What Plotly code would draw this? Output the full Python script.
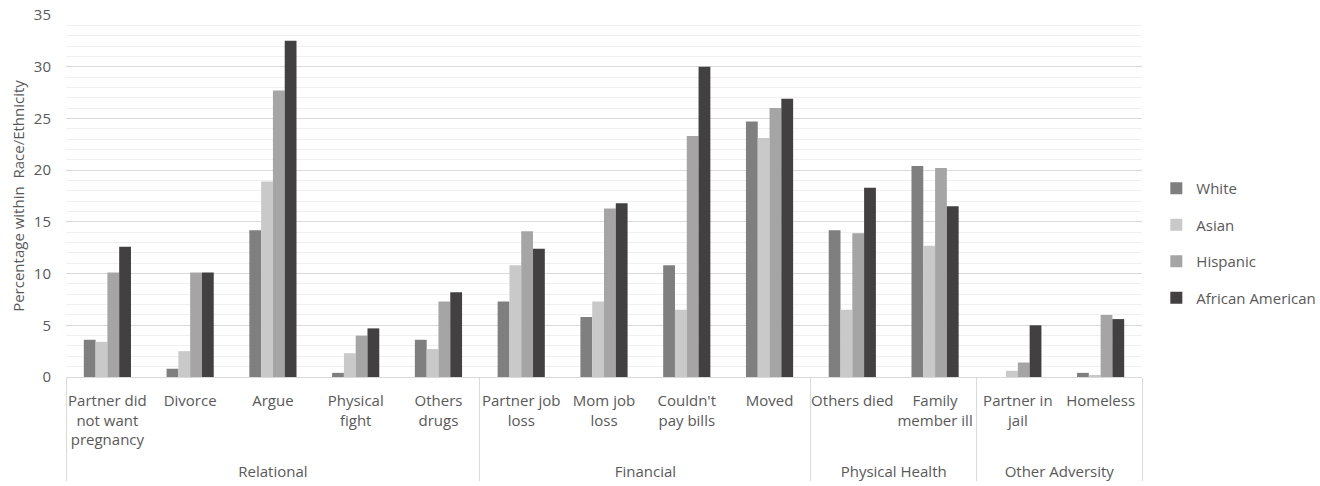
import plotly.graph_objects as go

groups = ["Relational"] * 5 + ["Financial"] * 4 + ["Physical Health"] * 2 + ["Other Adversity"] * 2
categories = [
    "Partner did<br>not want<br>pregnancy<br> ", "Divorce", "Argue", "Physical<br>fight", "Others<br>drugs",
    "Partner job<br>loss", "Mom job<br>loss", "Couldn't<br>pay bills", "Moved",
    "Others died", "Family<br>member ill",
    "Partner in<br>jail", "Homeless",
]
series_names = ["White", "Asian", "Hispanic", "African American"]
white = [3.6, 0.8, 14.2, 0.4, 3.6, 7.3, 5.8, 10.8, 24.7, 14.2, 20.4, 0.0, 0.4]
asian = [3.4, 2.5, 18.9, 2.3, 2.7, 10.8, 7.3, 6.5, 23.1, 6.5, 12.7, 0.6, 0.2]
hispanic = [10.1, 10.1, 27.7, 4.0, 7.3, 14.1, 16.3, 23.3, 26.0, 13.9, 20.2, 1.4, 6.0]
african_american = [12.6, 10.1, 32.5, 4.7, 8.2, 12.4, 16.8, 30.0, 26.9, 18.3, 16.5, 5.0, 5.6]
colors = ["#7f7f7f", "#c9c9c9", "#a5a5a5", "#424040"]

FONT = "Open Sans, Carlito, Calibri, sans-serif"
FS = 15

fig = go.Figure()
for name, vals, col in zip(series_names, [white, asian, hispanic, african_american], colors):
    fig.add_trace(go.Bar(
        x=[groups, categories], y=vals, name=name,
        marker=dict(color=col, line=dict(width=0)),
        legendgroup=name,
    ))

fig.update_layout(
    width=1320, height=486,
    margin=dict(l=66, r=178, t=15, b=109, autoexpand=False),
    paper_bgcolor="white", plot_bgcolor="white",
    barmode="group", bargap=0.43, bargroupgap=0,
    font=dict(family=FONT, size=FS, color="#595959"),
    legend=dict(
        xref="container", yref="container",
        x=0.876, y=0.5, xanchor="left", yanchor="middle",
        font=dict(family=FONT, size=FS, color="#595959"),
        tracegroupgap=14, itemwidth=30,
    ),
    showlegend=True,
)
fig.update_yaxes(
    range=[0, 35], dtick=5, showgrid=True, gridcolor="#d9d9d9", gridwidth=1,
    minor=dict(dtick=1, showgrid=True, gridcolor="#f0f0f0", gridwidth=1),
    zeroline=False, showline=False, ticks="", ticklabelstandoff=14,
    tickfont=dict(family=FONT, size=FS, color="#595959"),
    title=dict(text="Percentage within  Race/Ethnicity", font=dict(family=FONT, size=FS, color="#595959"), standoff=5),
)
fig.update_xaxes(
    type="multicategory", showline=True, linecolor="#d9d9d9", linewidth=1,
    showdividers=True, dividercolor="#d9d9d9", dividerwidth=1,
    tickfont=dict(family=FONT, size=FS, color="#595959"),
    ticks="", tickangle=0, ticklabelstandoff=10,
)

fig.write_html("out.html")
